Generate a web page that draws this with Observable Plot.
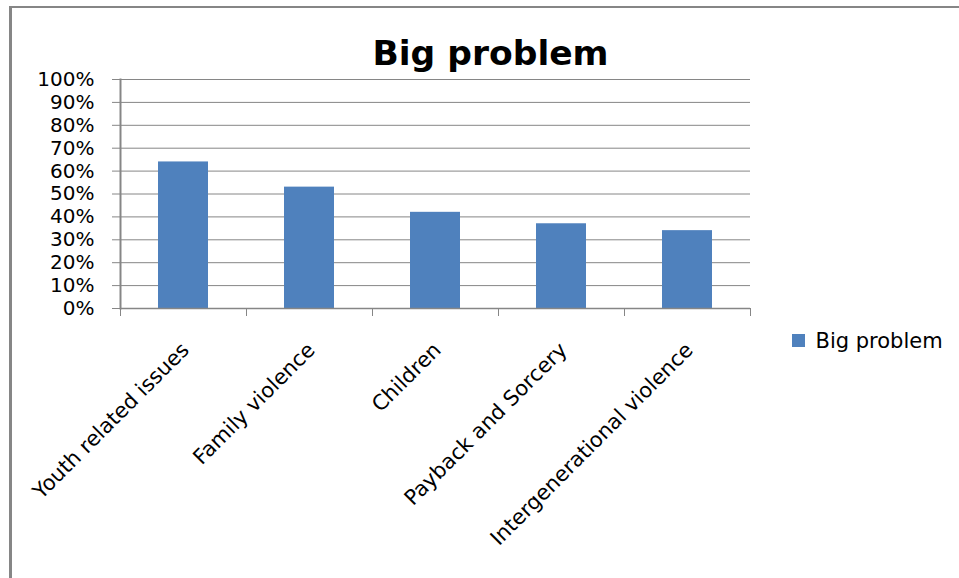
<!DOCTYPE html>
<html>
<head>
<meta charset="utf-8">
<script src="https://cdn.jsdelivr.net/npm/d3@7"></script>
<script src="https://cdn.jsdelivr.net/npm/@observablehq/plot@0.6"></script>
<style>
  html, body { margin: 0; padding: 0; background: #fff; }
  #wrap { position: relative; width: 959px; height: 578px; overflow: hidden; }
  #border { position: absolute; left: 9px; top: 6px; right: -10px; bottom: -10px;
            border-top: 2px solid #868686; border-left: 3px solid #868686; }
  #chart { position: absolute; left: 0; top: 0; }
  #legend { position: absolute; left: 792px; top: 324px; width: 167px; white-space: nowrap; }
  #legend * { white-space: nowrap; }
</style>
</head>
<body>
<div id="wrap">
  <div id="border"></div>
  <div id="chart"></div>
  <div id="legend"></div>
</div>
<script>
// Share of respondents rating each issue a "big problem"
const categories = [
  "Youth related issues",
  "Family violence",
  "Children",
  "Payback and Sorcery",
  "Intergenerational violence"
];
const bigProblem = [0.64, 0.53, 0.42, 0.37, 0.34];
const seriesName = "Big problem";
const yTicks = [0, 0.1, 0.2, 0.3, 0.4, 0.5, 0.6, 0.7, 0.8, 0.9, 1.0];

const rows = categories.map((c, i) => ({category: c, value: bigProblem[i]}));

const W = 959, H = 578;
const margin = {left: 120, right: 209, top: 79, bottom: 270};
const step = (W - margin.left - margin.right) / categories.length;
const gray = "#868686";
const blue = "#4f81bd";
const font = "DejaVu Sans";

const chart = Plot.plot({
  width: W,
  height: H,
  marginLeft: margin.left,
  marginRight: margin.right,
  marginTop: margin.top,
  marginBottom: margin.bottom,
  style: {fontFamily: font, background: "transparent", color: "#000", overflow: "visible"},
  x: {type: "band", domain: categories, paddingInner: 0.6, paddingOuter: 0.3, axis: null, label: null},
  y: {domain: [0, 1], axis: null, label: null},
  marks: [
    // horizontal gridlines
    Plot.ruleY(yTicks.slice(1), {stroke: gray, strokeWidth: 1}),
    // bars
    Plot.barY(rows, {x: "category", y: "value", fill: blue}),
    // value axis line and ticks
    Plot.frame({anchor: "left", stroke: gray, strokeWidth: 2}),
    Plot.axisY(yTicks, {
      anchor: "left", label: null, tickSize: 8, tickPadding: 18, stroke: gray, fill: "#000",
      fontSize: 20, tickFormat: d3.format(".0%")
    }),
    // category axis line and tick marks at category boundaries
    Plot.ruleY([0], {stroke: gray, strokeWidth: 1.5}),
    Plot.axisX(categories, {anchor: "bottom", label: null, tickSize: 8, tickFormat: () => "", stroke: gray, dx: step / 2}),
    Plot.axisX(categories.slice(0, 1), {anchor: "bottom", label: null, tickSize: 8, tickFormat: () => "", stroke: gray, dx: -step / 2}),
    // rotated category labels
    Plot.text(categories, {
      x: d => d, frameAnchor: "bottom", rotate: -45, textAnchor: "end",
      lineAnchor: "middle", dx: 2, dy: 38, fontSize: 21, fill: "#000"
    }),
    // chart title
    Plot.text([seriesName], {
      frameAnchor: "top", lineAnchor: "bottom", dx: 55, dy: -15,
      fontSize: 34.5, fontWeight: "bold", fill: "#000"
    })
  ]
});
document.getElementById("chart").appendChild(chart);

const legend = Plot.legend({
  color: {type: "ordinal", domain: [seriesName], range: [blue]},
  swatchSize: 13,
  swatchWidth: 13,
  swatchHeight: 13,
  style: {fontFamily: font, fontSize: "21px", color: "#000", margin: 0}
});
document.getElementById("legend").appendChild(legend);
</script>
</body>
</html>
